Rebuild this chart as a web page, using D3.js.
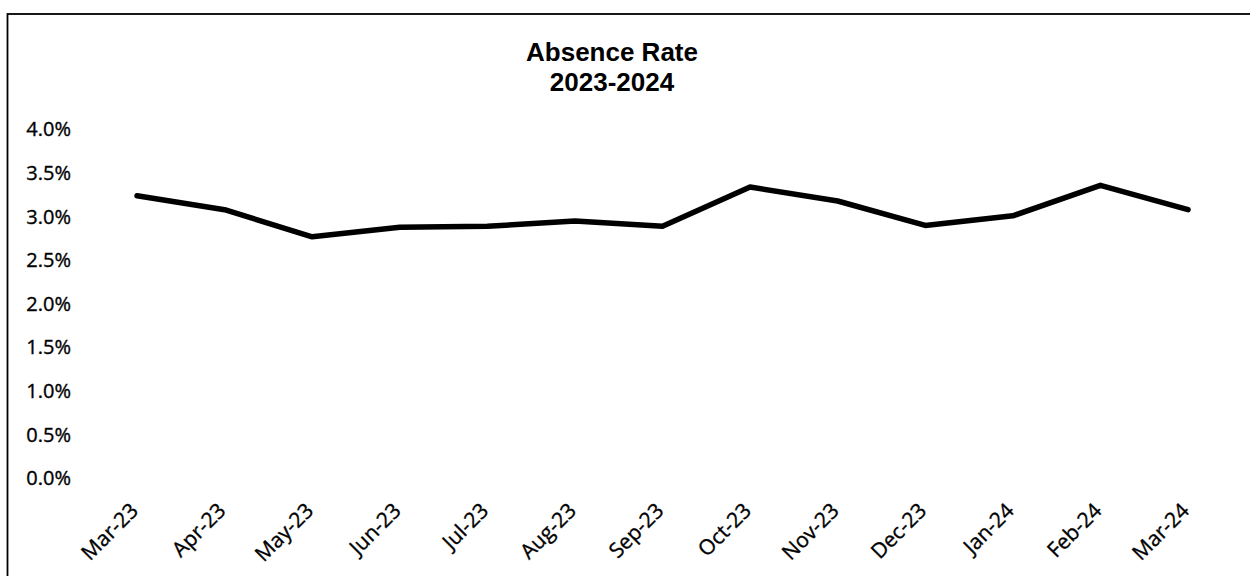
<!DOCTYPE html>
<html>
<head>
<meta charset="utf-8">
<script src="https://cdn.jsdelivr.net/npm/d3@7"></script>
<style>
  html, body { margin: 0; padding: 0; background: #fff; }
  svg { display: block; }
</style>
</head>
<body>
<script>
// Monthly absence rate, March 2023 to March 2024
const months = ["Mar-23", "Apr-23", "May-23", "Jun-23", "Jul-23", "Aug-23", "Sep-23",
                "Oct-23", "Nov-23", "Dec-23", "Jan-24", "Feb-24", "Mar-24"];
const absenceRate = [3.24, 3.08, 2.77, 2.88, 2.89, 2.95, 2.89, 3.34, 3.18, 2.90, 3.01, 3.36, 3.08];
const yTicks = [0, 0.5, 1.0, 1.5, 2.0, 2.5, 3.0, 3.5, 4.0];
const titleLines = ["Absence Rate", "2023-2024"];

const W = 1250, H = 576;
const svg = d3.select("body").append("svg")
  .attr("width", W).attr("height", H);

// chart frame
svg.append("rect")
  .attr("x", 7.5).attr("y", 14)
  .attr("width", W + 20).attr("height", H + 20)
  .attr("fill", "none").attr("stroke", "#000").attr("stroke-width", 1.8);

const x = d3.scalePoint().domain(months).range([137, 1188]);
const y = d3.scaleLinear().domain([0, 4]).range([478.3, 129.5]);

// title
svg.append("text")
  .attr("x", 612).attr("y", 61)
  .attr("text-anchor", "middle")
  .style("font-family", "'Liberation Sans', Arial, sans-serif")
  .style("font-weight", "bold").style("font-size", "26px")
  .selectAll("tspan").data(titleLines).join("tspan")
  .attr("x", 612).attr("dy", (d, i) => i === 0 ? 0 : 30)
  .text(d => d);

// y axis labels (no axis line or ticks)
const yAxis = d3.axisLeft(y).tickValues(yTicks)
  .tickFormat(d => d3.format(".1f")(d) + "%")
  .tickSize(0).tickPadding(0);
const gy = svg.append("g").attr("transform", "translate(71,0)").call(yAxis);
gy.select(".domain").remove();
gy.selectAll("text")
  .style("font-family", "'Open Sans', sans-serif")
  .style("font-size", "20px").attr("fill", "#000")
  .attr("stroke", "#000").attr("stroke-width", 0.35);

// x axis labels, rotated
const xAxis = d3.axisBottom(x).tickSize(0).tickPadding(0);
const gx = svg.append("g").attr("transform", "translate(0,512)").call(xAxis);
gx.select(".domain").remove();
gx.selectAll("text")
  .style("font-family", "'Open Sans', sans-serif")
  .style("font-size", "21px").attr("fill", "#000")
  .attr("stroke", "#000").attr("stroke-width", 0.35)
  .attr("text-anchor", "end")
  .attr("dy", 0).attr("y", 0)
  .attr("transform", "translate(2,0) rotate(-45)");

// data line
const line = d3.line()
  .x((d, i) => x(months[i]))
  .y(d => y(d));
svg.append("path")
  .datum(absenceRate)
  .attr("d", line)
  .attr("fill", "none")
  .attr("stroke", "#000")
  .attr("stroke-width", 5.5)
  .attr("stroke-linejoin", "round")
  .attr("stroke-linecap", "round");
</script>
</body>
</html>
